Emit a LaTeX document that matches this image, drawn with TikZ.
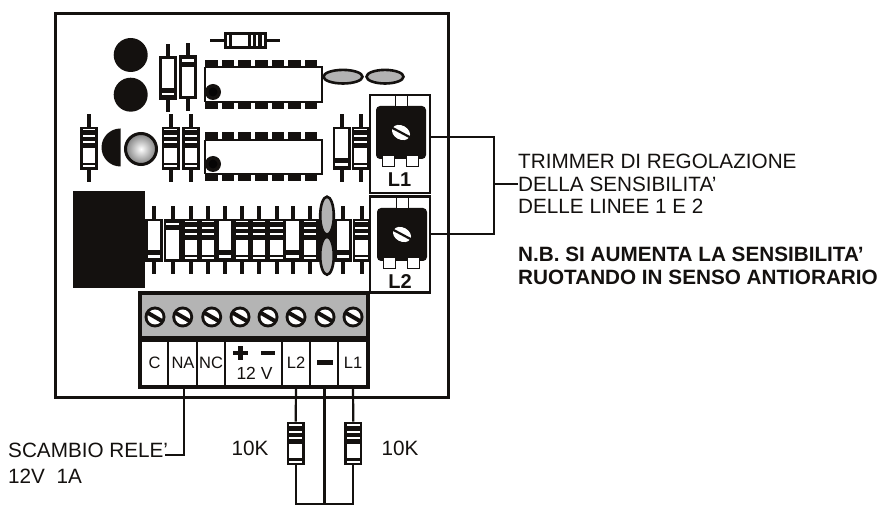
\documentclass[tikz,border=0pt]{standalone}
\usepackage{fontspec}
\setmainfont{Liberation Sans}
\definecolor{ink}{HTML}{14110F}
\definecolor{capgray}{HTML}{B2B2B2}
\definecolor{blockgray}{HTML}{B4B4B4}
\newcommand{\leadsV}[3]{\fill[ink] (#1-2,#2-#3) rectangle (#1+2,#2+#3);}
\newcommand{\resBand}[3][34]{%
  \leadsV{#2}{#3}{#1}
  \fill[ink] (#2-9,#3-21.7) rectangle (#2+9,#3+21.7);
  \fill[white] (#2-6.3,#3-19.5) rectangle (#2+6.3,#3-18);
  \fill[white] (#2-6.3,#3-13) rectangle (#2+6.3,#3-11);
  \fill[white] (#2-6.3,#3-7) rectangle (#2+6.3,#3-5);
  \fill[white] (#2-6.3,#3) rectangle (#2+6.3,#3+14.5);
  \fill[white] (#2-6.3,#3+17) rectangle (#2+6.3,#3+19);}
\newcommand{\diodeLow}[2]{%
  \leadsV{#1}{#2}{34}
  \fill[ink] (#1-9,#2-21.7) rectangle (#1+9,#2+21.7);
  \fill[white] (#1-6.3,#2-19) rectangle (#1+6.3,#2+10);
  \fill[white] (#1-6.3,#2+15) rectangle (#1+6.3,#2+17.5);}
\newcommand{\diodeHigh}[2]{%
  \leadsV{#1}{#2}{34}
  \fill[ink] (#1-9,#2-21.7) rectangle (#1+9,#2+21.7);
  \fill[white] (#1-6.3,#2+19) rectangle (#1+6.3,#2-10);
  \fill[white] (#1-6.3,#2-15) rectangle (#1+6.3,#2-17.5);}
\newcommand{\chipPart}[3]{%
  \foreach \px in {205,221.7,238.3,255,271.5,288,304.5}{
    \fill[ink] (\px,#1) rectangle (\px+12.5,#2+0);
    \fill[ink] (\px,#3) rectangle (\px+12.5,#3+7.5);}
  \draw[ink,line width=2pt,fill=white] (205,#2) -- (321.5,#2) -- (321.5,#3) -- (205,#3);
  \draw[ink,line width=2pt] (205,#2) -- (205,#3);}
\newcommand{\trimmerPart}[2]{%
  \fill[ink,rounded corners=4pt] (#1-25,#2-26.5) rectangle (#1+25,#2+26.5);
  \draw[ink,line width=1pt,fill=white] (#1-5.5,#2-25.5) rectangle (#1+6.5,#2-36.5);
  \draw[ink,line width=1pt,fill=white] (#1-18.5,#2+23.5) rectangle (#1-6.5,#2+34);
  \draw[ink,line width=1pt,fill=white] (#1+5.5,#2+23.5) rectangle (#1+17,#2+34);
  \fill[white,rotate around={-28:(#1,#2)}] (#1,#2) ellipse (9.5pt and 7pt);
  \fill[ink,rotate around={-28:(#1,#2)}] (#1-11,#2-1.1) rectangle (#1+11,#2+1.1);}
\newcommand{\screwPart}[1]{%
  \fill[ink] (#1,317) circle (10.5pt);
  \fill[white] (#1,317) circle (7.5pt);
  \fill[ink,rotate around={-30:(#1,317)}] (#1-9,317-2) rectangle (#1+9,317+2);}
\tikzset{
  pcbline/.style={ink,line width=3pt},
  wire/.style={ink,line width=2.2pt},
  heavywire/.style={ink,line width=3.6pt},
  capshape/.style={draw=ink,line width=2.6pt,fill=capgray},
  frame/.style={draw=ink,line width=2.5pt},
  note/.style={anchor=west,inner sep=0pt,text=ink,font=\fontsize{20.7}{22}\selectfont},
  noteb/.style={anchor=west,inner sep=0pt,text=ink,font=\fontsize{20.7}{22}\selectfont\bfseries},
  termtxt/.style={inner sep=0pt,text=ink,minimum width=26pt,minimum height=42pt,font=\fontsize{16.5}{17}\selectfont},
  trimlabel/.style={inner sep=0pt,text=ink,font=\fontsize{20}{20}\selectfont\bfseries},
  restarget/.style={inner sep=0pt,minimum width=18pt,minimum height=43.4pt},
}
\begin{document}
\begin{tikzpicture}[x=1pt,y=-1pt]
\useasboundingbox (0,0) rectangle (891,510);
\fill[white] (0,0) rectangle (891,510);
% board
\draw[pcbline] (55.5,13.5) rectangle (448,397);
% top parts
\fill[ink] (130.7,55) circle (17pt);
\fill[ink] (130.7,94.7) circle (17pt);
\diodeLow{168}{78}
\diodeHigh{188}{77}
% horizontal resistor
\fill[ink] (210,38.6) rectangle (280,42.4);
\fill[ink] (224,32) rectangle (267,49);
\fill[white] (227,35) rectangle (229,46);
\fill[white] (232,35) rectangle (248,46);
\fill[white] (251,35) rectangle (253,46);
\fill[white] (256,35) rectangle (258,46);
\fill[white] (261.5,35) rectangle (263.5,46);
% chips
\chipPart{60}{67}{102}
\chipPart{132}{140}{174}
\fill[ink] (213,92) circle (8pt);
\fill[ink] (213,164) circle (8pt);
\fill[black!70!ink] (213,92) circle (4.5pt);
\fill[black!70!ink] (213,164) circle (4.5pt);
% ovals
\draw[capshape] (343,76.7) ellipse (19.5pt and 6.8pt);
\draw[capshape] (385,76.7) ellipse (18.5pt and 6.8pt);
% middle row
\resBand{89}{148.5}
\fill[ink] (120.5,166.5) arc (90:270:19) -- cycle;
\shade[inner color=white,outer color=black!50,draw=ink,line width=3pt] (141,149) circle (15.5pt);
\resBand{170.7}{148.5}
\resBand{191}{148.5}
\diodeLow{341.7}{148.5}
\resBand{360.7}{148.5}
% relay block
\fill[ink] (73,191) rectangle (145,288);
% lower row
\diodeLow{154}{240.5}
\diodeHigh{172.7}{240.5}
\resBand{191}{240.5}
\resBand{208}{240.5}
\diodeLow{225}{240.5}
\resBand{242}{240.5}
\resBand{259}{240.5}
\resBand{276.7}{240.5}
\diodeLow{292.5}{240.5}
\resBand{310}{240.5}
\fill[ink] (318,219) rectangle (336,262);
\diodeLow{343}{240.5}
\resBand{361.7}{240.5}
\draw[capshape] (327,215.7) ellipse (6.8pt and 19pt);
\draw[capshape] (327,255.7) ellipse (6.8pt and 19pt);
% trimmers
\node[frame,inner sep=0pt,minimum width=60pt,minimum height=98pt,fill=white] (boxA) at (400,144) {};
\node[frame,inner sep=0pt,minimum width=60pt,minimum height=96pt,fill=white] (boxB) at (400,244.5) {};
\trimmerPart{401}{132.5}
\trimmerPart{402}{234.5}
\node[trimlabel] (labA) at (399.5,180) {L1};
\node[trimlabel] (labB) at (400,281.5) {L2};
% terminal block
\fill[blockgray] (140,293) rectangle (368,338);
\fill[white] (140,340) rectangle (368,387);
\fill[ink] (140,336.5) rectangle (368,342);
\foreach \sx in {155,182.7,211.7,240,268,296,325,353}{\screwPart{\sx}}
\draw[ink,line width=3.4pt] (140,293) rectangle (368,387);
\foreach \dx in {168,197,225,282,310,338}{\draw[ink,line width=2.4pt] (\dx,340) -- (\dx,387);}
\node[termtxt] (termC) at (154.5,363) {C};
\node[termtxt] (termNA) at (183,363) {NA};
\node[termtxt] (termNC) at (211,363) {NC};
\node[termtxt,minimum width=56pt] (termV) at (254.5,373) {\fontsize{17.5}{18}\selectfont 12 V};
\node[termtxt] (termL2) at (296,363) {L2};
\node[termtxt,minimum width=28pt] (termG) at (324,364) {};
\node[termtxt] (termL1) at (353,363) {L1};
\fill[ink] (238,346) rectangle (242.5,360);
\fill[ink] (233,350.8) rectangle (247.5,355.2);
\fill[ink] (261,350.8) rectangle (275,355.2);
\fill[ink] (317,359.5) rectangle (332.5,364.5);
% external resistors
\resBand[21.7]{295.7}{443.5}
\resBand[21.7]{353.3}{443.5}
\node[restarget] (rA) at (295.7,443.5) {};
\node[restarget] (rB) at (353.3,443.5) {};
\coordinate (railA) at (295.7,503.7);
\coordinate (railB) at (353.3,503.7);
\coordinate (railM) at (324.5,503.7);
\coordinate (termLA) at (296,387);
\coordinate (termLB) at (353,387);
\coordinate (termM) at (324.5,387);
\coordinate (termNAb) at (184,387);
\draw[wire] (termLA) -- (rA.north);
\draw[wire] (termLB) -- (rB.north);
\draw[wire] (rA.south) -- (railA) -- (railB) -- (rB.south);
\draw[heavywire] (termM) -- (railM);
% texts
\node[note] (t1) at (518,161) {TRIMMER DI REGOLAZIONE};
\node[note] (t2) at (518,184) {DELLA SENSIBILITA'};
\node[note] (t3) at (518,206.5) {DELLE LINEE 1 E 2};
\node[noteb] (t4) at (518,254) {N.B. SI AUMENTA LA SENSIBILITA'};
\node[noteb] (t5) at (518,277) {RUOTANDO IN SENSO ANTIORARIO};
\node[note] (s1) at (8,450) {SCAMBIO RELE'};
\node[note] (s2) at (8,476.5) {12V\ \ 1A};
\node[note,anchor=center] (k1) at (250,448) {10K};
\node[note,anchor=center] (k2) at (400,448) {10K};
% wires from trimmers
\coordinate (joinA) at (494,137);
\coordinate (joinB) at (494,234);
\coordinate (joinC) at (494,184);
\draw[wire] (boxA.east |- joinA) -- (joinA) -- (joinB) -- (boxB.east |- joinB);
\draw[wire] (joinC) -- (t2.west);
\draw[wire] (termNAb) -- (184,455) -- (165,455);
\end{tikzpicture}
\end{document}
